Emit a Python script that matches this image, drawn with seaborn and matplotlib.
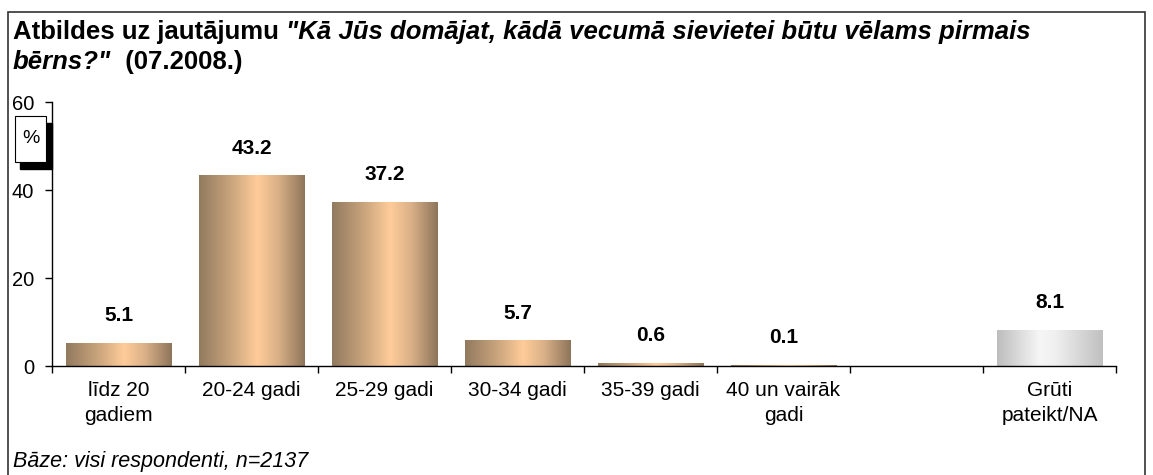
import numpy as np
import pandas as pd
import matplotlib
matplotlib.use('Agg')
import matplotlib.pyplot as plt
import seaborn as sns
from matplotlib.colors import LinearSegmentedColormap
from matplotlib.patches import Rectangle

# ==========================================
# DATA
# ==========================================
categories = ['līdz 20\ngadiem', '20-24 gadi', '25-29 gadi', '30-34 gadi',
              '35-39 gadi', '40 un vairāk\ngadi', ' ', 'Grūti\npateikt/NA']
values = [5.1, 43.2, 37.2, 5.7, 0.6, 0.1, np.nan, 8.1]
groups = ['age', 'age', 'age', 'age', 'age', 'age', 'age', 'na']
y_ticks = [0, 20, 40, 60]

TITLE_BOLD = 'Atbildes uz jautājumu '
TITLE_ITALIC_1 = '"Kā Jūs domājat, kādā vecumā sievietei būtu vēlams pirmais'
TITLE_ITALIC_2 = 'bērns?"'
TITLE_DATE = '  (07.2008.)'
FOOTNOTE = 'Bāze: visi respondenti, n=2137'

df = pd.DataFrame({'category': categories, 'value': values, 'group': groups})

# ==========================================
# STYLE
# ==========================================
sns.set_style('white')
plt.rcParams['font.family'] = ['Liberation Sans', 'DejaVu Sans']
plt.rcParams['text.color'] = 'black'
plt.rcParams['xtick.color'] = 'black'
plt.rcParams['ytick.color'] = 'black'
plt.rcParams['xtick.labelcolor'] = 'black'
plt.rcParams['ytick.labelcolor'] = 'black'

brown_cmap = LinearSegmentedColormap.from_list(
    'brown', [(0.0, '#927a5e'), (0.3, '#c9a47d'), (0.55, '#ffcc99'),
              (0.75, '#d9b088'), (1.0, '#8e755a')])
gray_cmap = LinearSegmentedColormap.from_list(
    'gray', [(0.0, '#bdbdbd'), (0.4, '#f6f6f6'), (0.55, '#f0f0f0'),
             (1.0, '#c0c0c0')])

W, H = 1153, 475
Y_TOP, Y_BOT, X_LEFT, X_RIGHT = 102, 366, 52, 1116
fig = plt.figure(figsize=(W / 100, H / 100), dpi=100)
ax = fig.add_axes([X_LEFT / W, 1 - Y_BOT / H, (X_RIGHT - X_LEFT) / W,
                   (Y_BOT - Y_TOP) / H])

sns.barplot(data=df, x='category', y='value', order=categories,
            color='#ffcc99', width=0.79, ax=ax, errorbar=None)

# gradient fill over each bar, matched to its category by position
for patch in ax.patches:
    h = patch.get_height()
    if not np.isfinite(h):
        continue
    x0 = patch.get_x()
    w = patch.get_width()
    i = int(round(x0 + w / 2))
    val, grp = values[i], groups[i]
    grad = np.linspace(0, 1, 256).reshape(1, -1)
    cmap = gray_cmap if grp == 'na' else brown_cmap
    ax.imshow(grad, cmap=cmap, extent=[x0, x0 + w, 0, h], aspect='auto',
              zorder=patch.get_zorder() + 0.1)
    ax.annotate(f'{val:.1f}', xy=(x0 + w / 2, h), xytext=(0, 20),
                textcoords='offset points', ha='center', va='center',
                fontsize=15, fontweight='bold', color='black')

ax.set_xlim(-0.5, len(categories) - 0.5)
ax.set_ylim(0, 60)
ax.set_yticks(y_ticks)
ax.set_xlabel('')
ax.set_ylabel('')

sns.despine(ax=ax, top=True, right=True)
for s in ['left', 'bottom']:
    ax.spines[s].set_color('black')
    ax.spines[s].set_linewidth(1.0)

ax.tick_params(axis='y', length=5, width=1, direction='out', left=True,
               labelsize=14.5, pad=8, colors='black')
ax.tick_params(axis='x', which='major', length=0, labelsize=15, pad=11,
               colors='black')
ax.set_xticks(np.arange(-0.5, len(categories)), minor=True)
ax.tick_params(axis='x', which='minor', length=5, width=1, direction='out',
               bottom=True, colors='black')
for lbl in ax.get_xticklabels():
    lbl.set_linespacing(1.4)
    lbl.set_va('top')

# ==========================================
# FRAME, TITLE, NOTES
# ==========================================
fig.patches.append(Rectangle((8 / W, -0.05), (1145 - 8) / W, 1.05 - 12 / H,
                             transform=fig.transFigure, fill=False,
                             edgecolor='#333333', linewidth=1.2))

TS = 18.5
t1 = fig.text(13 / W, 1 - 39 / H, TITLE_BOLD, fontsize=TS, fontweight='bold',
              ha='left', va='baseline')
fig.canvas.draw()
bb = t1.get_window_extent()
fig.text(bb.x1 / W, 1 - 39 / H, TITLE_ITALIC_1, fontsize=TS,
         fontweight='bold', style='italic', ha='left', va='baseline')
t2 = fig.text(13 / W, 1 - 69 / H, TITLE_ITALIC_2, fontsize=TS,
              fontweight='bold', style='italic', ha='left', va='baseline')
fig.canvas.draw()
bb2 = t2.get_window_extent()
fig.text(bb2.x1 / W, 1 - 69 / H, TITLE_DATE, fontsize=TS,
         fontweight='bold', ha='left', va='baseline')

# "%" box with shadow
fig.patches.append(Rectangle((20 / W, 1 - 169 / H), 32 / W, 46 / H,
                             transform=fig.transFigure, facecolor='black',
                             edgecolor='black', zorder=3))
fig.patches.append(Rectangle((15 / W, 1 - 162 / H), 31 / W, 46 / H,
                             transform=fig.transFigure, facecolor='white',
                             edgecolor='black', linewidth=0.8, zorder=4))
fig.text(30.5 / W, 1 - 139 / H, '%', fontsize=14, ha='center', va='center',
         zorder=5)

fig.text(13 / W, 1 - 467 / H, FOOTNOTE, fontsize=15.5, style='italic',
         ha='left', va='baseline')

fig.savefig('out.png', dpi=100)
